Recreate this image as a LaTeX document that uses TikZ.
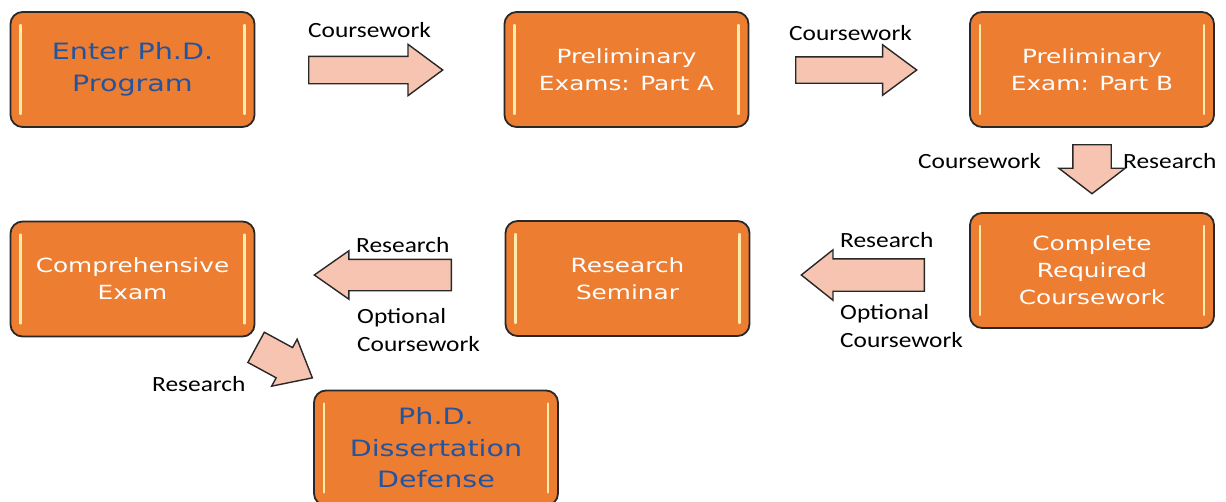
\documentclass[tikz,border=0pt]{standalone}
\usepackage{fontspec}
\usetikzlibrary{shapes.arrows,calc}
\newfontfamily\boxfontfam[FakeStretch=1.27]{DejaVu Sans}
\newfontfamily\labfontfam[FakeStretch=1.17]{Carlito}
\definecolor{orangeF}{RGB}{237,125,49}
\definecolor{blueT}{RGB}{34,84,160}
\definecolor{arrowF}{RGB}{246,196,176}
\definecolor{edgeC}{RGB}{40,40,40}
\definecolor{hlC}{RGB}{255,236,170}
\tikzset{
  box/.style={draw=edgeC, line width=1.8pt, rounded corners=12pt, fill=orangeF,
    minimum width=244pt, minimum height=115pt, align=center, text=white, inner sep=0pt,
    font=\boxfontfam\fontsize{19.5}{27}\selectfont},
  bluebox/.style={box, text=blueT, font=\boxfontfam\fontsize{22.5}{32}\selectfont},
  bluebox2/.style={box, text=blueT, font=\boxfontfam\fontsize{22.5}{31.5}\selectfont},
  hl/.style={draw=hlC, line width=2.6pt, line cap=round},
  blockarrow/.style={single arrow, draw=edgeC, line width=1.4pt, fill=arrowF, inner xsep=0pt,
    single arrow head indent=0pt, anchor=tail},
  lab/.style={font=\labfontfam\fontsize{21.7}{27.5}\selectfont, inner sep=0pt, align=left}
}
\begin{document}
\begin{tikzpicture}[x=1pt,y=-1pt]
\useasboundingbox (0,0) rectangle (1226,501);
\clip (0,0) rectangle (1226,501);
% boxes
\node[bluebox] (b1) at (132.5,69.5) {Enter Ph.D.\\Program};
\node[box] (b2) at (626.5,69.5) {Preliminary\\Exams: Part A};
\node[box] (b3) at (1092,69.5) {Preliminary\\Exam: Part B};
\node[box] (b4) at (1092,270.5) {Complete\\Required\\Coursework};
\node[box] (b5) at (627.5,278.5) {Research\\Seminar};
\node[box] (b6) at (132.5,279) {Comprehensive\\Exam};
\node[bluebox2] (b7) at (436,448) {Ph.D.\\Dissertation\\Defense};
% highlights
\foreach \b in {b1,b2,b3,b4,b5,b6,b7}{
  \draw[hl] ($(\b.north west)+(11,14)$) -- ($(\b.south west)+(11,-14)$);
  \draw[hl] ($(\b.north east)+(-11,14)$) -- ($(\b.south east)+(-11,-14)$);
}
% block arrows
\node[blockarrow, minimum height=134pt, inner ysep=13pt, single arrow head extend=12pt,
  single arrow tip angle=73] (a1) at (308,70) {};
\node[blockarrow, minimum height=121pt, inner ysep=12.5pt, single arrow head extend=12pt,
  single arrow tip angle=73] (a2) at (795,70) {};
\node[blockarrow, minimum height=49pt, inner ysep=18.5pt, single arrow head extend=14pt,
  single arrow tip angle=105, rotate=-90] (a3) at (1092,144) {};
\node[blockarrow, minimum height=123pt, inner ysep=15.5pt, single arrow head extend=9pt,
  single arrow tip angle=77, rotate=180] (a4) at (925,275) {};
\node[blockarrow, minimum height=137pt, inner ysep=15pt, single arrow head extend=8.5pt,
  single arrow tip angle=70, rotate=180] (a5) at (452,275) {};
\node[blockarrow, minimum height=64pt, inner ysep=16.5pt, single arrow head extend=9.5pt,
  single arrow tip angle=80, rotate=-28.5] (a6) at (255.5,347) {};
% labels
\node[lab, anchor=base west] (l1) at (308,37) {Coursework};
\node[lab, anchor=base west] (l2) at (789,40) {Coursework};
\node[lab, anchor=base west] (l3) at (918,168) {Coursework};
\node[lab, anchor=base west] (l4) at (1123,168) {Research};
\node[lab, anchor=base west] (l5) at (840,247) {Research};
\node[lab, anchor=base west] (l6) at (840,347) {Optional\\Coursework};
\node[lab, anchor=base west] (l7) at (356,252) {Research};
\node[lab, anchor=base west] (l8) at (357,351) {Optional\\Coursework};
\node[lab, anchor=base west] (l9) at (152,391) {Research};
\end{tikzpicture}
\end{document}
